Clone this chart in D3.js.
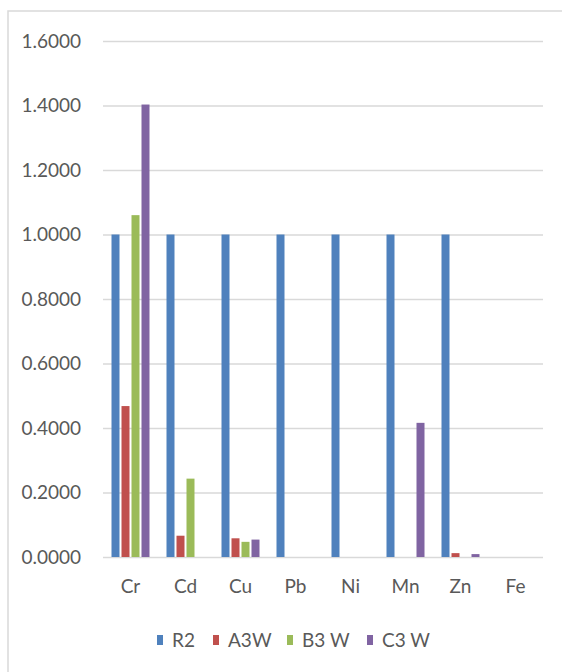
<!DOCTYPE html>
<html>
<head>
<meta charset="utf-8">
<script src="https://cdn.jsdelivr.net/npm/d3@7"></script>
<style>
  html, body { margin: 0; padding: 0; background: #fff; }
  svg { display: block; }
  text { font-family: Lato, "Open Sans", sans-serif; fill: #595959; }
</style>
</head>
<body>
<svg id="chart" width="562" height="672"></svg>
<script>
// Metals on the category axis
const categories = ["Cr", "Cd", "Cu", "Pb", "Ni", "Mn", "Zn", "Fe"];
// Series names, in legend order
const seriesNames = ["R2", "A3W", "B3 W", "C3 W"];
const seriesColors = ["#4F81BD", "#C0504D", "#9BBB59", "#8064A2"];
// Values per series, one per metal
const r2  = [1.0, 1.0, 1.0, 1.0, 1.0, 1.0, 1.0, 0];
const a3w = [0.468, 0.066, 0.058, 0, 0, 0, 0.012, 0];
const b3w = [1.060, 0.243, 0.047, 0, 0, 0, 0, 0];
const c3w = [1.403, 0, 0.054, 0, 0, 0.416, 0.009, 0];
// Value-axis ticks
const yTicks = [0, 0.2, 0.4, 0.6, 0.8, 1.0, 1.2, 1.4, 1.6];

const seriesValues = [r2, a3w, b3w, c3w];
const fontSize = 19;

const svg = d3.select("#chart");

// Chart frame (left and top edges show; it runs off the right and bottom)
svg.append("rect")
  .attr("x", 8).attr("y", 11)
  .attr("width", 600).attr("height", 700)
  .attr("fill", "#fff")
  .attr("stroke", "#d9d9d9")
  .attr("stroke-width", 1.5);

const plot = { left: 103, right: 543, top: 41, bottom: 557 };

const x0 = d3.scaleBand()
  .domain(categories)
  .range([plot.left, plot.right])
  .padding(0);

const groupWidth = 38;
const x1 = d3.scaleBand()
  .domain(seriesNames)
  .range([0, groupWidth])
  .paddingInner(0.2)
  .paddingOuter(0);

const y = d3.scaleLinear()
  .domain([0, 1.6])
  .range([plot.bottom, plot.top]);

// Horizontal gridlines and tick labels
const yAxis = d3.axisLeft(y)
  .tickValues(yTicks)
  .tickFormat(d3.format(".4f"))
  .tickSize(-(plot.right - plot.left))
  .tickPadding(22);

const yG = svg.append("g")
  .attr("transform", `translate(${plot.left},0)`)
  .call(yAxis);
yG.select(".domain").remove();
yG.selectAll(".tick line")
  .attr("stroke", "#d9d9d9")
  .attr("stroke-width", 1.5);
yG.selectAll(".tick text")
  .attr("font-size", fontSize)
  .attr("fill", "#595959")
  .style("font-family", "Lato, 'Open Sans', sans-serif");

// Bars
const groups = svg.append("g").selectAll("g")
  .data(categories)
  .join("g")
  .attr("transform", d => `translate(${x0(d) + (x0.bandwidth() - groupWidth) / 2},0)`);

groups.selectAll("rect")
  .data((c, i) => seriesNames.map((s, k) => ({ s, k, v: seriesValues[k][i] })))
  .join("rect")
  .attr("x", d => x1(d.s))
  .attr("width", x1.bandwidth())
  .attr("y", d => y(d.v))
  .attr("height", d => y(0) - y(d.v))
  .attr("fill", d => seriesColors[d.k]);

// Category axis labels
const xAxis = d3.axisBottom(x0).tickSize(0).tickPadding(23);
const xG = svg.append("g")
  .attr("transform", `translate(0,${plot.bottom})`)
  .call(xAxis);
xG.select(".domain").remove();
xG.selectAll(".tick text")
  .attr("font-size", fontSize)
  .attr("fill", "#595959")
  .style("font-family", "Lato, 'Open Sans', sans-serif");

// Legend
const legendOffsets = [0, 56, 130, 210];
const legend = svg.append("g").attr("transform", "translate(157,640)");
seriesNames.forEach((name, k) => {
  const item = legend.append("g").attr("transform", `translate(${legendOffsets[k]},0)`);
  item.append("rect")
    .attr("x", 0).attr("y", -5)
    .attr("width", 6).attr("height", 10)
    .attr("fill", seriesColors[k]);
  item.append("text")
    .attr("x", 15).attr("y", 7)
    .attr("font-size", fontSize)
    .text(name);
});
</script>
</body>
</html>
